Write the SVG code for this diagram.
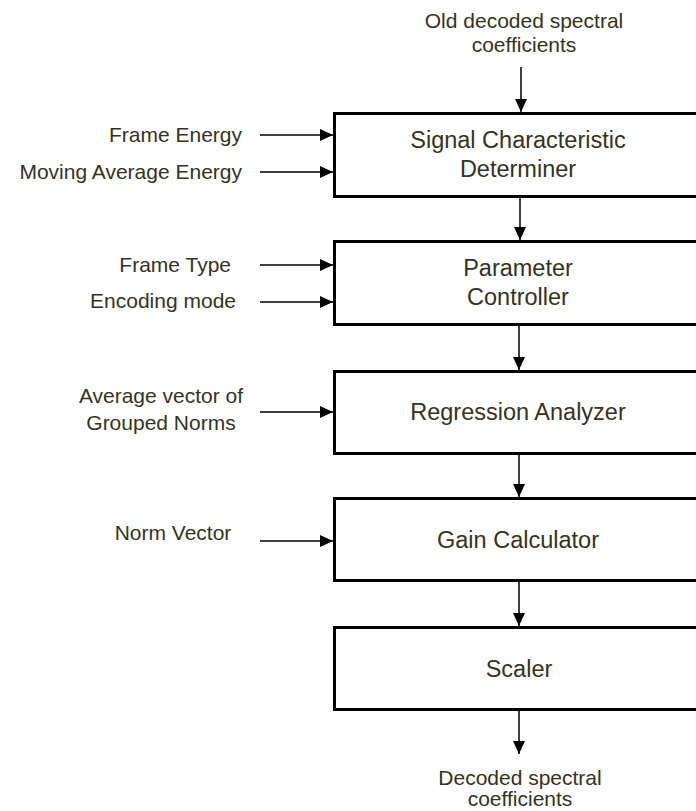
<svg xmlns="http://www.w3.org/2000/svg" width="696" height="811" viewBox="0 0 696 811">
<defs>
<marker id="ah" markerUnits="userSpaceOnUse" markerWidth="14" markerHeight="14" refX="13" refY="6" orient="auto">
<path d="M0,0 L13,6 L0,12 Z" fill="#000"/>
</marker>
<style>
.box{fill:#fff;stroke:#000;stroke-width:3}
.bt{font-family:"Liberation Sans",Arial,sans-serif;font-size:23.5px;fill:#333322;text-anchor:middle}
.lb{font-family:"Liberation Sans",Arial,sans-serif;font-size:21px;fill:#333322}
.c{stroke:#000;stroke-width:1.5;fill:none;marker-end:url(#ah)}
</style>
</defs>
<rect width="696" height="811" fill="#fff"/>
<g id="n1"><rect class="box" x="334.5" y="113.5" width="400" height="83"/><text class="bt" x="518" y="148">Signal Characteristic</text><text class="bt" x="518" y="177">Determiner</text></g>
<g id="n2"><rect class="box" x="334.5" y="241.5" width="400" height="83"/><text class="bt" x="518" y="276">Parameter</text><text class="bt" x="518" y="305">Controller</text></g>
<g id="n3"><rect class="box" x="334.5" y="371.5" width="400" height="82"/><text class="bt" x="518" y="420">Regression Analyzer</text></g>
<g id="n4"><rect class="box" x="334.5" y="498.5" width="400" height="82"/><text class="bt" x="518" y="548">Gain Calculator</text></g>
<g id="n5"><rect class="box" x="334.5" y="627.5" width="400" height="82"/><text class="bt" x="519" y="677">Scaler</text></g>
<g id="labels">
<text class="lb" x="524" y="28" text-anchor="middle">Old decoded spectral</text>
<text class="lb" x="524" y="52" text-anchor="middle">coefficients</text>
<text class="lb" x="242" y="142" text-anchor="end">Frame Energy</text>
<text class="lb" x="242" y="179" text-anchor="end">Moving Average Energy</text>
<text class="lb" x="231" y="272" text-anchor="end">Frame Type</text>
<text class="lb" x="236" y="308" text-anchor="end">Encoding mode</text>
<text class="lb" x="161" y="403" text-anchor="middle">Average vector of</text>
<text class="lb" x="161" y="430" text-anchor="middle">Grouped Norms</text>
<text class="lb" x="173" y="540" text-anchor="middle">Norm Vector</text>
<text class="lb" x="520" y="785" text-anchor="middle">Decoded spectral</text>
<text class="lb" x="520" y="806" text-anchor="middle">coefficients</text>
</g>
<g id="connectors">
<line class="c" x1="521" y1="67" x2="521" y2="112"/>
<line class="c" x1="520" y1="198" x2="520" y2="240"/>
<line class="c" x1="519" y1="326" x2="519" y2="370"/>
<line class="c" x1="519" y1="455" x2="519" y2="497"/>
<line class="c" x1="519" y1="582" x2="519" y2="626"/>
<line class="c" x1="519" y1="711" x2="519" y2="754"/>
<line class="c" x1="260" y1="135" x2="333" y2="135"/>
<line class="c" x1="260" y1="172" x2="333" y2="172"/>
<line class="c" x1="260" y1="265" x2="333" y2="265"/>
<line class="c" x1="260" y1="302" x2="333" y2="302"/>
<line class="c" x1="260" y1="412" x2="333" y2="412"/>
<line class="c" x1="260" y1="541" x2="333" y2="541"/>
</g>
</svg>
